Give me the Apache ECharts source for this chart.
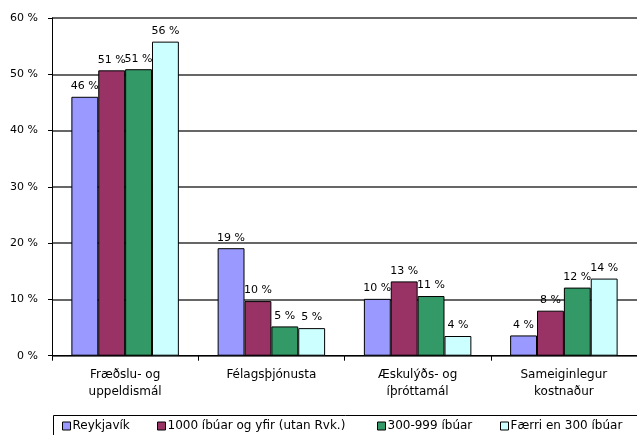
<!DOCTYPE html>
<html>
<head>
<meta charset="utf-8">
<script src="https://cdn.jsdelivr.net/npm/echarts@6/dist/echarts.min.js"></script>
<style>html,body{margin:0;padding:0;background:#fff}#c{width:637px;height:435px}</style>
</head>
<body>
<div id="c"></div>
<script>
const categories = ["Fræðslu- og\nuppeldismál", "Félagsþjónusta", "Æskulýðs- og\níþróttamál", "Sameiginlegur\nkostnaður"];
const seriesNames = ["Reykjavík", "1000 íbúar og yfir (utan Rvk.)", "300-999 íbúar", "Færri en 300 íbúar"];
const reykjavik = [46.0, 19.1, 10.1, 3.6];
const ibuar1000 = [50.7, 9.7, 13.2, 8.0];
const ibuar300 = [50.9, 5.2, 10.6, 12.1];
const faerri300 = [55.8, 4.9, 3.5, 13.7];
const yTicks = [0, 10, 20, 30, 40, 50, 60];

const colors = ["#9999FF", "#993366", "#339966", "#CCFFFF"];
const values = [reykjavik, ibuar1000, ibuar300, faerri300];
const legendLeft = [62, 157, 377, 500];
const font = "DejaVu Sans";

const chart = echarts.init(document.getElementById('c'), null, {renderer: 'canvas'});
chart.setOption({
  animation: false,
  textStyle: {fontFamily: font},
  grid: {left: 52, top: 18, right: -4.3, bottom: 79.3, containLabel: false},
  graphic: [{
    type: 'rect', left: 51, top: 413, silent: true,
    shape: {width: 700, height: 40},
    style: {fill: null, stroke: '#000', lineWidth: 1}
  }],
  legend: seriesNames.map((n, i) => ({
    left: legendLeft[i], top: 420,
    padding: 0,
    itemGap: 0, itemWidth: 8, itemHeight: 8,
    icon: 'rect',
    itemStyle: {borderColor: '#000', borderWidth: 1},
    textStyle: {fontFamily: font, fontSize: 12, color: '#000', padding: [0, 0, 0, -3]},
    data: [n]
  })),
  xAxis: {
    type: 'category',
    data: categories,
    axisLine: {lineStyle: {color: '#000', width: 1}},
    axisTick: {show: true, length: 5, lineStyle: {color: '#000'}},
    axisLabel: {fontFamily: font, fontSize: 12, color: '#000', margin: 11, lineHeight: 17, interval: 0}
  },
  yAxis: {
    type: 'value',
    min: yTicks[0], max: yTicks[yTicks.length - 1], interval: 10,
    axisLine: {show: true, lineStyle: {color: '#000', width: 1}},
    axisTick: {show: true, length: 4, lineStyle: {color: '#000'}},
    axisLabel: {fontFamily: font, fontSize: 11, color: '#000', margin: 14, formatter: v => v + ' %'},
    splitLine: {show: true, lineStyle: {color: '#333', width: 1.5}}
  },
  series: seriesNames.map((n, i) => ({
    name: n,
    type: 'bar',
    data: values[i],
    barGap: '0%',
    barCategoryGap: '26.5%',
    itemStyle: {color: colors[i], borderColor: '#000', borderWidth: 1},
    label: {show: true, position: 'top', distance: 5, fontFamily: font, fontSize: 11, color: '#000',
      formatter: p => Math.round(p.value) + ' %'}
  }))
});
</script>
</body>
</html>
